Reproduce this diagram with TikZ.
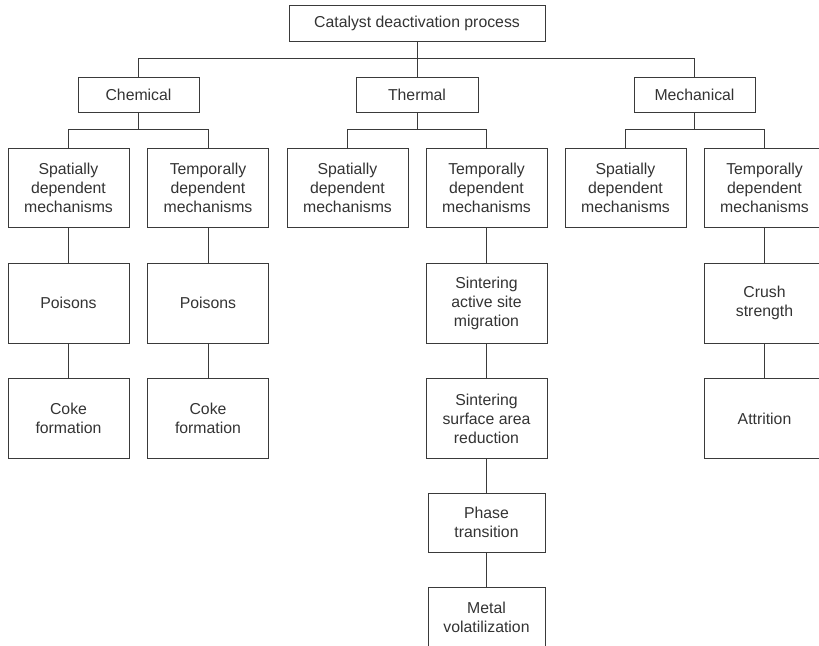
\documentclass[tikz,border=0pt]{standalone}
\usepackage{fontspec}
\setmainfont{Liberation Sans}
\usepackage{tikz}
\usetikzlibrary{positioning}
\definecolor{linegray}{HTML}{3A3A3A}
\definecolor{txtgray}{HTML}{333333}
\tikzset{
  box/.style={draw=linegray,line width=0.8pt,text=txtgray,align=center,
    inner sep=0pt,font=\fontsize{13.5}{16.2}\selectfont},
  head/.style={box,minimum width=3.63cm,minimum height=1.05cm},
  mech/.style={box,minimum width=3.63cm,minimum height=2.37cm},
  cause/.style={box,minimum width=3.63cm,minimum height=2.4cm},
  small/.style={box,minimum width=3.51cm,minimum height=1.77cm},
  link/.style={draw=linegray,line width=0.8pt}
}

\begin{document}
\begin{tikzpicture}[x=0.03cm,y=-0.03cm]
    \useasboundingbox (0,0) rectangle (819,645);
    \clip (0,0) rectangle (819,645);

    % top level
    \node[box,minimum width=7.68cm,minimum height=1.08cm] (top) at (417,23) {Catalyst deactivation process};

    \node[head] (chem) at (138.5,94.5) {Chemical};
    \node[head,minimum width=3.66cm] (therm) at (417,94.5) {Thermal};
    \node[head] (mech) at (694.5,94.5) {Mechanical};

    % mechanisms
    \node[mech] (cs) at (68.5,187.5) {Spatially\\dependent\\mechanisms};
    \node[mech] (ct) at (208,187.5) {Temporally\\dependent\\mechanisms};
    \node[mech] (ts) at (347.5,187.5) {Spatially\\dependent\\mechanisms};
    \node[mech] (tt) at (486.5,187.5) {Temporally\\dependent\\mechanisms};
    \node[mech] (ms) at (625.5,187.5) {Spatially\\dependent\\mechanisms};
    \node[mech] (mt) at (764.5,187.5) {Temporally\\dependent\\mechanisms};

    % causes
    \node[cause] (cs1) at (68.5,303) {Poisons};
    \node[cause] (cs2) at (68.5,418.5) {Coke\\formation};
    \node[cause] (ct1) at (208,303) {Poisons};
    \node[cause] (ct2) at (208,418.5) {Coke\\formation};
    \node[cause] (tt1) at (486.5,303) {Sintering\\active site\\migration};
    \node[cause] (tt2) at (486.5,418.5) {Sintering\\surface area\\reduction};
    \node[small] (tt3) at (486.5,522.5) {Phase\\transition};
    \node[small] (tt4) at (486.5,617) {Metal\\volatilization};
    \node[cause] (mt1) at (764.5,303) {Crush\\strength};
    \node[cause] (mt2) at (764.5,418.5) {Attrition};

    % connectors
    \draw[link] (chem.north) -- ++(0,-18) -| (mech.north);
    \draw[link] (top.south) -- (therm.north);

    \draw[link] (cs.north) -- ++(0,-18) coordinate (b1) -| (ct.north);
    \draw[link] (chem.south) -- (chem.south |- b1);
    \draw[link] (ts.north) -- ++(0,-18) coordinate (b2) -| (tt.north);
    \draw[link] (therm.south) -- (therm.south |- b2);
    \draw[link] (ms.north) -- ++(0,-18) coordinate (b3) -| (mt.north);
    \draw[link] (mech.south) -- (mech.south |- b3);

    \draw[link] (cs) -- (cs1) -- (cs2);
    \draw[link] (ct) -- (ct1) -- (ct2);
    \draw[link] (tt) -- (tt1) -- (tt2) -- (tt3) -- (tt4);
    \draw[link] (mt) -- (mt1) -- (mt2);
  \end{tikzpicture}
\end{document}
